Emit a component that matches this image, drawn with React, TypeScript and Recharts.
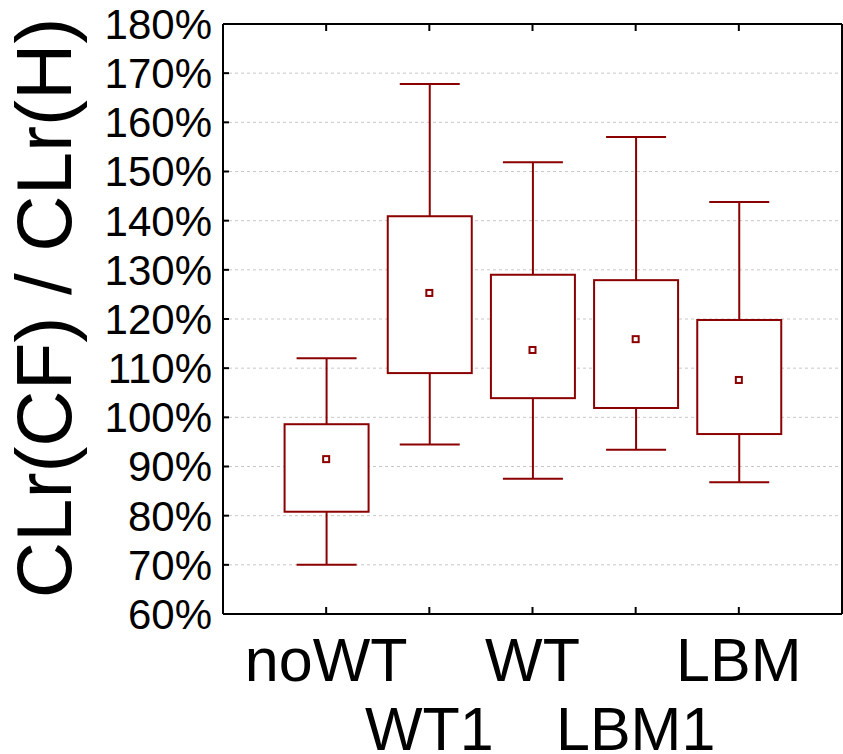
import {
  ComposedChart,
  Bar,
  Scatter,
  XAxis,
  YAxis,
  CartesianGrid,
  Label,
} from "recharts";

const categories = ["noWT", "WT1", "WT", "LBM1", "LBM"];
const whiskerLow = [70, 94.5, 87.5, 93.4, 86.8];
const boxLow = [80.8, 109, 103.9, 101.9, 96.6];
const means = [91.5, 125.3, 113.7, 115.9, 107.6];
const boxHigh = [98.6, 140.9, 129, 127.9, 119.8];
const whiskerHigh = [112, 167.8, 151.9, 157, 143.8];
const yTicks = [60, 70, 80, 90, 100, 110, 120, 130, 140, 150, 160, 170, 180];
const xTicks = [1, 2, 3, 4, 5];

const RED = "#8b0000";
const FONT = "'Liberation Sans', Arial, sans-serif";

const data = categories.map((name, i) => ({
  pos: i + 1,
  name,
  wLow: whiskerLow[i],
  q1: boxLow[i],
  mean: means[i],
  q3: boxHigh[i],
  wHigh: whiskerHigh[i],
}));

const WhiskerShape = (props: any) => {
  const { x, y, width, height } = props;
  const top = Math.min(y, y + height);
  const bottom = Math.max(y, y + height);
  const cx = x + width / 2;
  return (
    <g stroke={RED} strokeWidth={2}>
      <line x1={cx} x2={cx} y1={top} y2={bottom} />
      <line x1={x} x2={x + width} y1={top} y2={top} />
      <line x1={x} x2={x + width} y1={bottom} y2={bottom} />
    </g>
  );
};

const BoxShape = (props: any) => {
  const { x, y, width, height } = props;
  const top = Math.min(y, y + height);
  return (
    <rect
      x={x}
      y={top}
      width={width}
      height={Math.abs(height)}
      fill="#fff"
      stroke={RED}
      strokeWidth={2}
    />
  );
};

const MeanShape = (props: any) => {
  const { cx, cy } = props;
  return (
    <rect x={cx - 3} y={cy - 3} width={6} height={6} fill="#fff" stroke={RED} strokeWidth={2} />
  );
};

// bottom axis: inward tick + staggered labels
const XTick = (props: any) => {
  const { x, y, payload, index } = props;
  const row = index % 2;
  return (
    <g>
      <line x1={x} x2={x} y1={y} y2={y - 7} stroke="#000" strokeWidth={2} />
      <text
        x={x}
        y={y + (row === 0 ? 67 : 136)}
        textAnchor="middle"
        fontSize={61}
        fontFamily={FONT}
        fill="#000"
      >
        {categories[payload.value - 1]}
      </text>
    </g>
  );
};

const TopTick = (props: any) => {
  const { x, y } = props;
  return <line x1={x} x2={x} y1={y} y2={y + 7} stroke="#000" strokeWidth={2} />;
};

const LeftTick = (props: any) => {
  const { x, y, payload } = props;
  return (
    <g>
      <line x1={x} x2={x + 6} y1={y} y2={y} stroke="#000" strokeWidth={2} />
      <text
        x={x - 11}
        y={y}
        dy="0.355em"
        textAnchor="end"
        fontSize={42}
        fontFamily={FONT}
        fill="#000"
      >
        {`${payload.value}%`}
      </text>
    </g>
  );
};

const RightTick = (props: any) => {
  const { x, y } = props;
  return <line x1={x} x2={x - 6} y1={y} y2={y} stroke="#000" strokeWidth={2} />;
};

const axisLine = { stroke: "#000", strokeWidth: 2 };

export default function App() {
  return (
    <div style={{ position: "absolute", left: 0, top: 0, background: "#fff" }}>
      <ComposedChart
        width={843}
        height={754}
        data={data}
        margin={{ top: 0, right: 0, bottom: 0, left: 0 }}
      >
        <CartesianGrid
          xAxisId="main"
          vertical={false}
          stroke="#c8c8c8"
          strokeDasharray="3 3"
        />
        <XAxis
          xAxisId="main"
          dataKey="pos"
          type="number"
          domain={[0, 6]}
          ticks={xTicks}
          height={140}
          axisLine={axisLine}
          tickLine={false}
          tickSize={0}
          tickMargin={0}
          tick={<XTick />}
          interval={0}
        />
        <XAxis
          xAxisId="top"
          orientation="top"
          dataKey="pos"
          type="number"
          domain={[0, 6]}
          ticks={xTicks}
          height={24}
          axisLine={axisLine}
          tickLine={false}
          tickSize={0}
          tickMargin={0}
          tick={<TopTick />}
          interval={0}
        />
        <XAxis xAxisId="whisker" dataKey="pos" type="number" domain={[0, 6]} height={0} hide />
        <XAxis xAxisId="box" dataKey="pos" type="number" domain={[0, 6]} height={0} hide />
        <YAxis
          type="number"
          domain={[60, 180]}
          ticks={yTicks}
          width={223}
          axisLine={axisLine}
          tickLine={false}
          tickSize={0}
          tickMargin={0}
          interval={0}
          tick={<LeftTick />}
        >
          <Label
            content={() => (
              <text
                x={71}
                y={308}
                transform="rotate(-90 71 308)"
                textAnchor="middle"
                fontSize={78}
                fontFamily={FONT}
                fill="#000"
              >
                CLr(CF) / CLr(H)
              </text>
            )}
          />
        </YAxis>
        <YAxis
          yAxisId="right"
          orientation="right"
          type="number"
          domain={[60, 180]}
          ticks={yTicks}
          width={1}
          axisLine={axisLine}
          tickLine={false}
          tickSize={0}
          tickMargin={0}
          tick={<RightTick />}
          interval={0}
        />
        <Bar
          xAxisId="whisker"
          dataKey={(d: any) => [d.wLow, d.wHigh]}
          barSize={60}
          shape={<WhiskerShape />}
          isAnimationActive={false}
        />
        <Bar
          xAxisId="box"
          dataKey={(d: any) => [d.q1, d.q3]}
          barSize={84}
          shape={<BoxShape />}
          isAnimationActive={false}
        />
        <Scatter
          xAxisId="main"
          dataKey="mean"
          shape={<MeanShape />}
          isAnimationActive={false}
        />
      </ComposedChart>
    </div>
  );
}
